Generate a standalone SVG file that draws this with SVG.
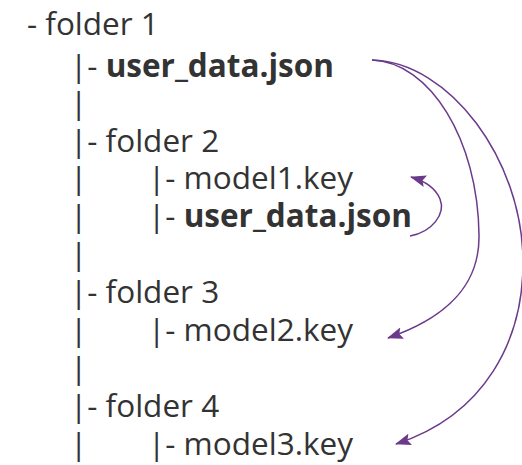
<svg xmlns="http://www.w3.org/2000/svg" width="522" height="465" viewBox="0 0 522 465">
<style>
.t{font-family:"Open Sans","Noto Sans",sans-serif;font-size:31.5px;fill:#333333}
.b{font-weight:bold}
.c{fill:none;stroke:#6b3a8a;stroke-width:1.5}
</style>
<defs>
<marker id="ah" viewBox="0 0 16 12" refX="15" refY="6" markerWidth="16" markerHeight="12" markerUnits="userSpaceOnUse" orient="auto">
<path d="M0,0 L16,6 L0,12 L3,6 Z" fill="#6b3a8a"/>
</marker>
</defs>
<rect width="522" height="465" fill="#ffffff"/>
<g id="n-folder1"><text class="t" x="27" y="35">- folder 1</text></g>
<g id="n-userdata1"><text class="t" x="70" y="77">|- <tspan class="b">user_data.json</tspan></text></g>
<g id="n-bar1"><text class="t" x="70" y="114">|</text></g>
<g id="n-folder2"><text class="t" x="70" y="152">|- folder 2</text></g>
<g id="n-model1"><text class="t" x="70" y="189">|</text><text class="t" x="148" y="189">|- model1.key</text></g>
<g id="n-userdata2"><text class="t" x="70" y="227">|</text><text class="t" x="148" y="227">|- <tspan class="b">user_data.json</tspan></text></g>
<g id="n-bar2"><text class="t" x="70" y="265">|</text></g>
<g id="n-folder3"><text class="t" x="70" y="303">|- folder 3</text></g>
<g id="n-model2"><text class="t" x="70" y="341">|</text><text class="t" x="148" y="341">|- model2.key</text></g>
<g id="n-bar3"><text class="t" x="70" y="379">|</text></g>
<g id="n-folder4"><text class="t" x="70" y="417">|- folder 4</text></g>
<g id="n-model3"><text class="t" x="70" y="455">|</text><text class="t" x="148" y="455">|- model3.key</text></g>
<g id="connectors">
<path class="c" marker-end="url(#ah)" d="M410,236 C432,232 446,214 440,199 C436,189 428,182 411,177"/>
<path class="c" marker-end="url(#ah)" d="M372,60 C430,62 478,140 479,235 C480,290 440,320 388,338"/>
<path class="c" marker-end="url(#ah)" d="M372,60 C450,62 522,160 523,260 C524,340 485,415 396,444"/>
</g>
</svg>
